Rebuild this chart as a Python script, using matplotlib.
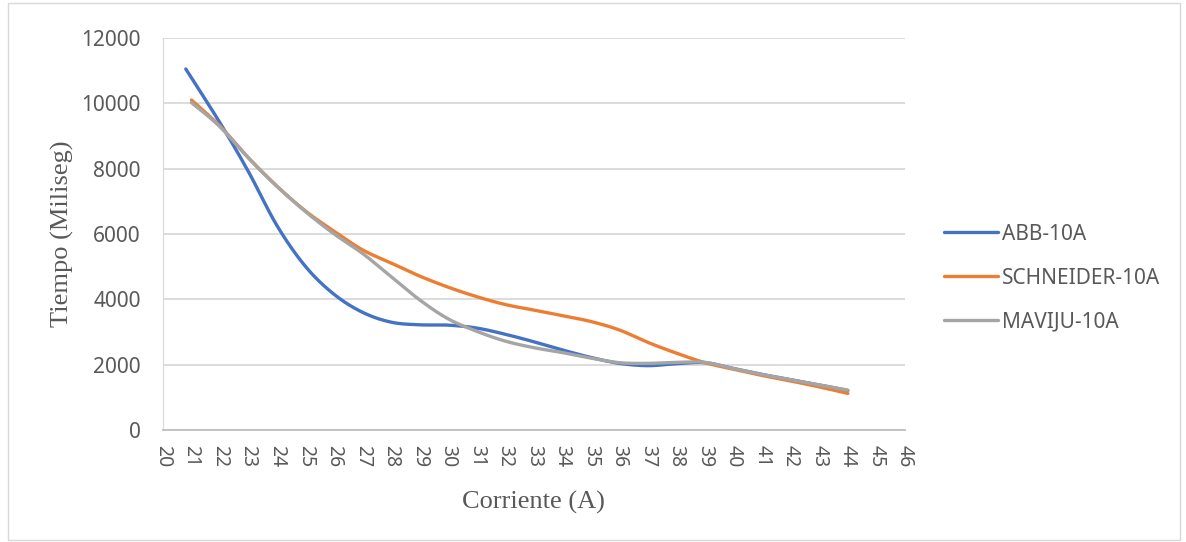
import numpy as np
import matplotlib
matplotlib.use("Agg")
import matplotlib.pyplot as plt

# values
abb_x = [20.8, 22, 23, 24, 25, 26, 27, 28, 29, 30, 31, 32, 33, 34, 35, 36, 37, 38, 39, 40, 41, 42, 43, 44]
abb_y = [11050, 9400, 7900, 6250, 5000, 4150, 3600, 3300, 3220, 3210, 3120, 2930, 2700, 2450, 2220, 2040, 1970, 2030, 2060, 1880, 1700, 1540, 1380, 1210]

sch_x = [21, 22, 23, 24, 25, 26, 27, 28, 29, 30, 31, 32, 33, 34, 35, 36, 37, 38, 39, 40, 41, 42, 43, 44]
sch_y = [10100, 9300, 8330, 7460, 6700, 6080, 5510, 5110, 4710, 4370, 4080, 3840, 3670, 3500, 3320, 3060, 2680, 2350, 2060, 1860, 1670, 1500, 1320, 1120]

mav_x = [21, 22, 23, 24, 25, 26, 27, 28, 29, 30, 31, 32, 33, 34, 35, 36, 37, 38, 39, 40, 41, 42, 43, 44]
mav_y = [10020, 9280, 8320, 7450, 6680, 6000, 5400, 4690, 3980, 3400, 3020, 2720, 2520, 2370, 2200, 2060, 2040, 2070, 2070, 1880, 1700, 1540, 1380, 1220]

x_ticks = list(range(20, 47))
y_ticks = [0, 2000, 4000, 6000, 8000, 10000, 12000]


def smooth(xs, ys, n=30):
    # Catmull-Rom style bezier smoothing, like Excel smoothed lines
    p = np.column_stack([xs, ys]).astype(float)
    p = np.vstack([p[0], p, p[-1]])
    out = []
    for i in range(1, len(p) - 2):
        p0, p1, p2, p3 = p[i - 1], p[i], p[i + 1], p[i + 2]
        b1 = p1 + (p2 - p0) / 6
        b2 = p2 - (p3 - p1) / 6
        t = np.linspace(0, 1, n)[:, None]
        seg = (1 - t) ** 3 * p1 + 3 * (1 - t) ** 2 * t * b1 + 3 * (1 - t) * t ** 2 * b2 + t ** 3 * p2
        out.append(seg)
    out = np.vstack(out)
    return out[:, 0], out[:, 1]


fig = plt.figure(figsize=(11.86, 5.42), dpi=100)
ax = fig.add_axes([0.1374, 0.2066, 0.6256, 0.7234])

# chart border
fig.patches.append(plt.Rectangle((0.007, 0.004), 0.988, 0.99, transform=fig.transFigure,
                                 fill=False, edgecolor="#d9d9d9", lw=1))

for xs, ys, col, lab in [(abb_x, abb_y, "#4472C4", "ABB-10A"),
                         (sch_x, sch_y, "#ED7D31", "SCHNEIDER-10A"),
                         (mav_x, mav_y, "#A5A5A5", "MAVIJU-10A")]:
    sx, sy = smooth(xs, ys)
    ax.plot(sx, sy, color=col, lw=2.4, label=lab, solid_capstyle="round")

ax.set_xlim(20, 46)
ax.set_ylim(0, 12000)
ax.set_xticks(x_ticks)
ax.set_yticks(y_ticks)
ax.set_xticklabels([str(v) for v in x_ticks], rotation=-90, fontsize=14, color="#595959",
                   family="Noto Sans")
ax.set_yticklabels([str(v) for v in y_ticks], fontsize=15, color="#595959", family="Noto Sans")
ax.tick_params(axis="y", length=0, pad=16)
ax.tick_params(axis="x", length=0, pad=11)
ax.grid(axis="y", color="#d9d9d9", lw=1.3)
ax.set_axisbelow(True)
for s in ["top", "right"]:
    ax.spines[s].set_visible(False)
ax.spines["left"].set_color("#d9d9d9")
ax.spines["bottom"].set_color("#bfbfbf")
ax.spines["bottom"].set_linewidth(1.3)

ax.set_xlabel("Corriente (A)", family="Liberation Serif", fontsize=19, color="#595959", labelpad=17)
ax.set_ylabel("Tiempo (Miliseg)", family="Liberation Serif", fontsize=19, color="#595959", labelpad=5)

leg = fig.legend(loc="center left", bbox_to_anchor=(944 / 1186, 1 - 278 / 542), frameon=False,
                 fontsize=15, handlelength=2.6, labelspacing=1.1, handletextpad=0.2, borderpad=0,
                 borderaxespad=0)
for t in leg.get_texts():
    t.set_color("#595959")
    t.set_family("Noto Sans")

fig.savefig("out.png", dpi=100)
